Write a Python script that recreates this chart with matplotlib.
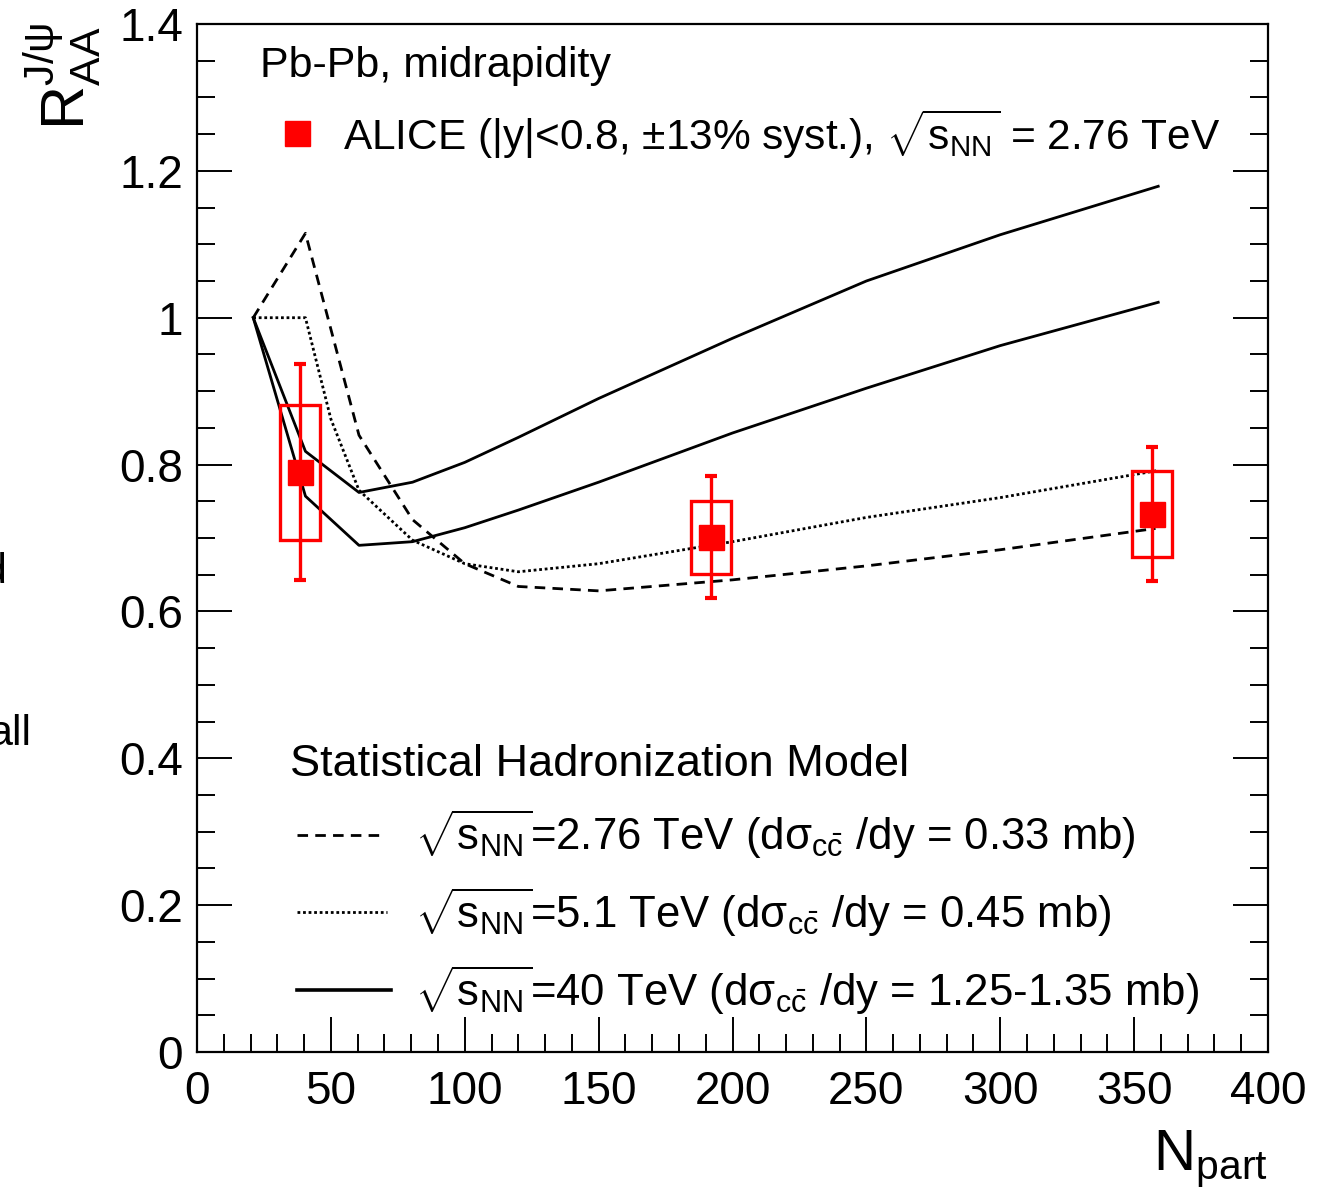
import matplotlib
matplotlib.use("Agg")
import matplotlib.pyplot as plt
from matplotlib.ticker import MultipleLocator, FuncFormatter
from matplotlib.patches import Rectangle

plt.rcParams['font.family'] = ['Liberation Sans', 'DejaVu Sans']
plt.rcParams['mathtext.fontset'] = 'custom'
plt.rcParams['mathtext.rm'] = 'Liberation Sans'
plt.rcParams['mathtext.it'] = 'Liberation Sans'
plt.rcParams['mathtext.bf'] = 'Liberation Sans:bold'
plt.rcParams['mathtext.sf'] = 'Liberation Sans'

# ---- Data ----
# SHM model curves (R_AA vs N_part)
npart_276 = [21, 40.5, 60.5, 80.5, 100, 120, 150, 200, 250, 300, 358]
raa_276 = [1.0, 1.115, 0.84, 0.725, 0.665, 0.634, 0.628, 0.643, 0.662, 0.684, 0.713]

npart_51 = [21, 40.5, 50, 60.5, 80.5, 100, 120, 150, 200, 250, 300, 359]
raa_51 = [1.0, 1.0, 0.862, 0.765, 0.697, 0.665, 0.654, 0.665, 0.695, 0.728, 0.755, 0.792]

npart_40 = [21, 40.5, 60.5, 80.5, 100, 120, 150, 200, 250, 300, 359]
raa_40_hi = [1.0, 0.818, 0.762, 0.776, 0.803, 0.837, 0.890, 0.972, 1.050, 1.113, 1.179]
raa_40_lo = [1.0, 0.757, 0.690, 0.695, 0.714, 0.738, 0.776, 0.843, 0.904, 0.962, 1.021]

# ALICE data
alice_npart = [38.4, 192.1, 356.8]
alice_raa = [0.790, 0.701, 0.733]
alice_stat = [0.147, 0.083, 0.091]
alice_sys_lo = [0.697, 0.651, 0.674]
alice_sys_hi = [0.881, 0.750, 0.791]
box_halfwidth = 7.5

# ---- Figure ----
W, H = 1319, 1194
fig = plt.figure(figsize=(W / 100, H / 100), dpi=100)
ax = fig.add_axes([197 / W, 1 - 1052 / H, (1268 - 197) / W, (1052 - 24) / H])
ax.set_xlim(0, 400)
ax.set_ylim(0, 1.4)

lw = 2.0
dash = (0, (3.8, 2.6))
dot = (0, (1.0, 1.0))
ax.plot(npart_276, raa_276, color='black', lw=lw, ls=dash)
ax.plot(npart_51, raa_51, color='black', lw=lw, ls=dot)
ax.plot(npart_40, raa_40_hi, color='black', lw=lw, ls='-')
ax.plot(npart_40, raa_40_lo, color='black', lw=lw, ls='-')

red = '#ff0000'
for x, y, s, lo, hi in zip(alice_npart, alice_raa, alice_stat, alice_sys_lo, alice_sys_hi):
    ax.add_patch(Rectangle((x - box_halfwidth, lo), 2 * box_halfwidth, hi - lo,
                           fill=False, edgecolor=red, lw=2.4, zorder=4))
ax.errorbar(alice_npart, alice_raa, yerr=alice_stat, fmt='s', color=red,
            ms=18, mec=red, mfc=red, elinewidth=2.4, capsize=4.5, capthick=3,
            zorder=5)

# ---- Axes styling ----
ax.xaxis.set_major_locator(MultipleLocator(50))
ax.xaxis.set_minor_locator(MultipleLocator(10))
ax.yaxis.set_major_locator(MultipleLocator(0.2))
ax.yaxis.set_minor_locator(MultipleLocator(0.05))
ax.yaxis.set_major_formatter(FuncFormatter(lambda v, p: '%g' % round(v, 2)))
ax.tick_params(which='both', direction='in', top=False, right=True,
               labelsize=33, width=1.4, colors='black')
ax.tick_params(which='major', length=25)
ax.tick_params(which='minor', length=13)
ax.tick_params(axis='x', pad=13)
ax.tick_params(axis='y', pad=10)
for sp in ax.spines.values():
    sp.set_linewidth(1.6)

# ---- Texts ----
ax.text(23.5, 1.328, 'Pb-Pb, midrapidity', fontsize=31, va='baseline', ha='left')
ax.plot([37.4], [1.2515], 's', color=red, ms=18, clip_on=False)
ax.text(54.5, 1.229, r'ALICE (|y|<0.8, $\pm$13% syst.), $\sqrt{\mathrm{s}_{\mathrm{NN}}}$ = 2.76 TeV',
        fontsize=30.5, va='baseline', ha='left')

ax.text(34.7, 0.376, 'Statistical Hadronization Model', fontsize=32.5,
        va='baseline', ha='left')

leg_y = [0.2955, 0.1907, 0.0844]
leg_txt_y = [0.275, 0.169, 0.0626]
leg_styles = [dash, dot, '-']
leg_lw = [lw, lw, 2.6]
leg_x1 = [70.0, 71.0, 72.5]
leg_labels = [
    r'$\sqrt{\mathrm{s}_{\mathrm{NN}}}$=2.76 TeV (d$\mathrm{\sigma}_{\mathrm{c\bar{c}}}$ /dy = 0.33 mb)',
    r'$\sqrt{\mathrm{s}_{\mathrm{NN}}}$=5.1 TeV (d$\mathrm{\sigma}_{\mathrm{c\bar{c}}}$ /dy = 0.45 mb)',
    r'$\sqrt{\mathrm{s}_{\mathrm{NN}}}$=40 TeV (d$\mathrm{\sigma}_{\mathrm{c\bar{c}}}$ /dy = 1.25-1.35 mb)',
]
for yl, yt, st, w, x1, lab in zip(leg_y, leg_txt_y, leg_styles, leg_lw, leg_x1, leg_labels):
    ax.plot([37.3, x1], [yl, yl], color='black', ls=st, lw=w)
    ax.text(81.3, yt, lab, fontsize=31.5, va='baseline', ha='left')

# Axis labels
fig.text(62 / W, 1 - 22 / H, r'$\mathrm{R}_{\mathrm{AA}}^{\mathrm{J/\psi}}$', rotation=90,
         fontsize=44, ha='center', va='top')
fig.text(1268 / W, 1 - 1170 / H, r'$\mathrm{N}_{\mathrm{part}}$', fontsize=42,
         ha='right', va='baseline')

# Cut-off page text at left edge
fig.text(6 / W, 1 - 583 / H, 'd', fontsize=31, ha='right', va='baseline')
fig.text(31 / W, 1 - 745 / H, 'all', fontsize=31, ha='right', va='baseline')

fig.savefig('out.png', dpi=100)
